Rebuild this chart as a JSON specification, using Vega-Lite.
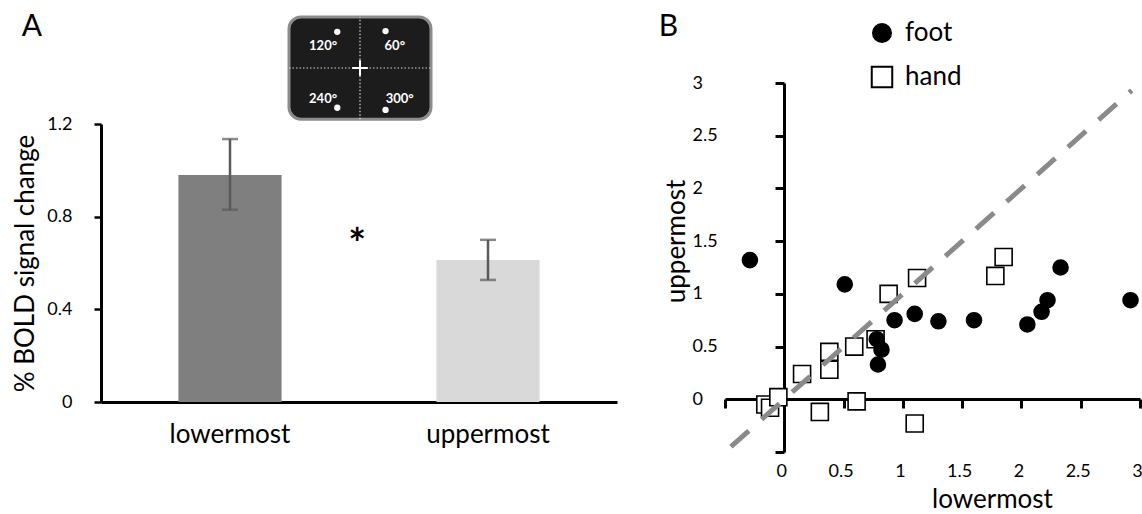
{
  "$schema": "https://vega.github.io/schema/vega-lite/v6.json",
  "background": "white",
  "padding": {"left": 12, "top": 11, "right": 0, "bottom": 0},
  "spacing": 41,
  "config": {
    "view": {"stroke": null},
    "font": "Lato",
    "axis": {"grid": false, "labelColor": "black", "titleColor": "black", "domainColor": "black", "tickColor": "black", "titleFontWeight": "normal", "labelFont": "Lato", "titleFont": "Lato"}
  },
  "resolve": {"legend": {"shape": "independent", "fill": "independent", "stroke": "independent"}},
  "datasets": {
    "bars": [
      {"condition": "lowermost", "mean": 0.98, "lo": 0.83, "hi": 1.135},
      {"condition": "uppermost", "mean": 0.613, "lo": 0.527, "hi": 0.70}
    ],
    "inset_box": [{"x": -1, "x2": 1, "y": -0.72, "y2": 0.72}],
    "inset_lines": [
      {"x": 0, "x2": 0, "y": -0.72, "y2": 0.72},
      {"x": -1, "x2": 1, "y": 0, "y2": 0}
    ],
    "inset_cross": [
      {"x": -0.11, "x2": 0.11, "y": 0, "y2": 0},
      {"x": 0, "x2": 0, "y": -0.11, "y2": 0.11}
    ],
    "inset_dots": [
      {"x": -0.32, "y": 0.51},
      {"x": 0.36, "y": 0.52},
      {"x": -0.32, "y": -0.56},
      {"x": 0.36, "y": -0.59}
    ],
    "inset_labels": [
      {"x": -0.52, "y": 0.31, "text": "120°"},
      {"x": 0.49, "y": 0.31, "text": "60°"},
      {"x": -0.52, "y": -0.44, "text": "240°"},
      {"x": 0.56, "y": -0.44, "text": "300°"}
    ],
    "panel_a_notes": [
      {"x": -4.62, "y": 0.577, "text": "A"}
    ],
    "star": [
      {"x": -0.04, "y": -2.5, "text": "*"}
    ],
    "scatter": [
      {"limb": "hand", "lowermost": -0.16, "uppermost": -0.05},
      {"limb": "hand", "lowermost": -0.12, "uppermost": -0.08},
      {"limb": "hand", "lowermost": -0.05, "uppermost": 0.02},
      {"limb": "hand", "lowermost": 0.15, "uppermost": 0.24},
      {"limb": "hand", "lowermost": 0.38, "uppermost": 0.28},
      {"limb": "hand", "lowermost": 0.38, "uppermost": 0.45},
      {"limb": "hand", "lowermost": 0.59, "uppermost": 0.50},
      {"limb": "hand", "lowermost": 0.77, "uppermost": 0.57},
      {"limb": "hand", "lowermost": 0.30, "uppermost": -0.12},
      {"limb": "hand", "lowermost": 0.61, "uppermost": -0.02},
      {"limb": "hand", "lowermost": 1.10, "uppermost": -0.23},
      {"limb": "hand", "lowermost": 0.88, "uppermost": 1.0},
      {"limb": "hand", "lowermost": 1.12, "uppermost": 1.15},
      {"limb": "hand", "lowermost": 1.78, "uppermost": 1.17},
      {"limb": "hand", "lowermost": 1.85, "uppermost": 1.35},
      {"limb": "foot", "lowermost": -0.29, "uppermost": 1.32},
      {"limb": "foot", "lowermost": 0.51, "uppermost": 1.09},
      {"limb": "foot", "lowermost": 0.93, "uppermost": 0.75},
      {"limb": "foot", "lowermost": 1.10, "uppermost": 0.81},
      {"limb": "foot", "lowermost": 1.30, "uppermost": 0.74},
      {"limb": "foot", "lowermost": 1.60, "uppermost": 0.75},
      {"limb": "foot", "lowermost": 2.05, "uppermost": 0.71},
      {"limb": "foot", "lowermost": 2.17, "uppermost": 0.83},
      {"limb": "foot", "lowermost": 2.22, "uppermost": 0.94},
      {"limb": "foot", "lowermost": 2.33, "uppermost": 1.25},
      {"limb": "foot", "lowermost": 2.92, "uppermost": 0.94},
      {"limb": "foot", "lowermost": 0.78, "uppermost": 0.57},
      {"limb": "foot", "lowermost": 0.82, "uppermost": 0.47},
      {"limb": "foot", "lowermost": 0.79, "uppermost": 0.33}
    ],
    "diag": [
      {"lowermost": -0.45, "uppermost": -0.45},
      {"lowermost": 2.93, "uppermost": 2.93}
    ],
    "panel_b_notes": [
      {"lowermost": -0.977, "uppermost": 3.533, "text": "B"}
    ]
  },
  "hconcat": [
    {
      "width": 516,
      "height": 319,
      "layer": [
        {
          "layer": [
            {
              "data": {"name": "bars"},
              "mark": {"type": "bar"},
              "encoding": {
                "x": {
                  "field": "condition", "type": "nominal",
                  "sort": ["lowermost", "uppermost"],
                  "scale": {"paddingInner": 0.6, "paddingOuter": 0.3},
                  "axis": {"title": null, "domainWidth": 3, "ticks": false, "labelFontSize": 26, "labelPadding": 32, "labelBaseline": "middle", "labelAngle": 0}
                },
                "y": {
                  "field": "mean", "type": "quantitative",
                  "scale": {"domain": [0, 1.2], "nice": false, "range": [319, 41]},
                  "axis": {"values": [0, 0.4, 0.8, 1.2], "format": "~g", "title": "% BOLD signal change", "titleFontSize": 26, "titleX": -76, "titleY": 180, "titleBaseline": "middle", "titleAlign": "center", "domainWidth": 3, "tickWidth": 2.5, "tickSize": 7, "labelFontSize": 18, "labelPadding": 22, "labelOverlap": false}
                },
                "color": {
                  "field": "condition", "type": "nominal",
                  "scale": {"domain": ["lowermost", "uppermost"], "range": ["#7f7f7f", "#d9d9d9"]},
                  "legend": null
                }
              }
            },
            {
              "data": {"name": "bars"},
              "mark": {"type": "rule", "color": "#5a5a5a", "strokeWidth": 2.5},
              "encoding": {
                "x": {"field": "condition", "type": "nominal", "sort": ["lowermost", "uppermost"]},
                "y": {"field": "lo", "type": "quantitative"},
                "y2": {"field": "hi"}
              }
            },
            {
              "data": {"name": "bars"},
              "mark": {"type": "tick", "color": "#5a5a5a", "thickness": 2.5, "size": 16},
              "encoding": {
                "x": {"field": "condition", "type": "nominal", "sort": ["lowermost", "uppermost"]},
                "y": {"field": "lo", "type": "quantitative"}
              }
            },
            {
              "data": {"name": "bars"},
              "mark": {"type": "tick", "color": "#5a5a5a", "thickness": 2.5, "size": 16},
              "encoding": {
                "x": {"field": "condition", "type": "nominal", "sort": ["lowermost", "uppermost"]},
                "y": {"field": "hi", "type": "quantitative"}
              }
            }
          ]
        },
        {
          "layer": [
            {
              "data": {"name": "inset_box"},
              "mark": {"type": "rect", "fill": "#1c1c1c", "stroke": "#8c8c8c", "strokeWidth": 3, "cornerRadius": 12},
              "encoding": {
                "x": {"field": "x", "type": "quantitative", "scale": {"domain": [-3.648, 3.62], "nice": false, "zero": false}, "axis": null},
                "x2": {"field": "x2"},
                "y": {"field": "y", "type": "quantitative", "scale": {"domain": [-4.704, -0.211], "nice": false, "zero": false}, "axis": null},
                "y2": {"field": "y2"}
              }
            },
            {
              "data": {"name": "inset_lines"},
              "mark": {"type": "rule", "color": "#d8d8d8", "strokeWidth": 1.2, "strokeDash": [1.5, 2]},
              "encoding": {
                "x": {"field": "x", "type": "quantitative", "scale": {"domain": [-3.648, 3.62], "nice": false, "zero": false}, "axis": null},
                "x2": {"field": "x2"},
                "y": {"field": "y", "type": "quantitative", "scale": {"domain": [-4.704, -0.211], "nice": false, "zero": false}, "axis": null},
                "y2": {"field": "y2"}
              }
            },
            {
              "data": {"name": "inset_cross"},
              "mark": {"type": "rule", "color": "white", "strokeWidth": 2},
              "encoding": {
                "x": {"field": "x", "type": "quantitative", "scale": {"domain": [-3.648, 3.62], "nice": false, "zero": false}, "axis": null},
                "x2": {"field": "x2"},
                "y": {"field": "y", "type": "quantitative", "scale": {"domain": [-4.704, -0.211], "nice": false, "zero": false}, "axis": null},
                "y2": {"field": "y2"}
              }
            },
            {
              "data": {"name": "inset_dots"},
              "mark": {"type": "circle", "color": "white", "opacity": 1, "size": 40},
              "encoding": {
                "x": {"field": "x", "type": "quantitative", "scale": {"domain": [-3.648, 3.62], "nice": false, "zero": false}, "axis": null},
                "y": {"field": "y", "type": "quantitative", "scale": {"domain": [-4.704, -0.211], "nice": false, "zero": false}, "axis": null}
              }
            },
            {
              "data": {"name": "inset_labels"},
              "mark": {"type": "text", "color": "white", "fontSize": 13, "fontWeight": "bold", "align": "center", "baseline": "middle"},
              "encoding": {
                "x": {"field": "x", "type": "quantitative", "scale": {"domain": [-3.648, 3.62], "nice": false, "zero": false}, "axis": null},
                "y": {"field": "y", "type": "quantitative", "scale": {"domain": [-4.704, -0.211], "nice": false, "zero": false}, "axis": null},
                "text": {"field": "text"}
              }
            },
            {
              "data": {"name": "panel_a_notes"},
              "mark": {"type": "text", "color": "black", "fontSize": 30, "align": "center", "baseline": "middle"},
              "encoding": {
                "x": {"field": "x", "type": "quantitative", "scale": {"domain": [-3.648, 3.62], "nice": false, "zero": false}, "axis": null},
                "y": {"field": "y", "type": "quantitative", "scale": {"domain": [-4.704, -0.211], "nice": false, "zero": false}, "axis": null},
                "text": {"field": "text"}
              }
            },
            {
              "data": {"name": "star"},
              "mark": {"type": "text", "color": "black", "fontSize": 42, "fontWeight": "bold", "align": "center", "baseline": "middle"},
              "encoding": {
                "x": {"field": "x", "type": "quantitative", "scale": {"domain": [-3.648, 3.62], "nice": false, "zero": false}, "axis": null},
                "y": {"field": "y", "type": "quantitative", "scale": {"domain": [-4.704, -0.211], "nice": false, "zero": false}, "axis": null},
                "text": {"field": "text"}
              }
            }
          ]
        }
      ],
      "resolve": {"scale": {"x": "independent", "y": "independent"}}
    },
    {
      "width": 415,
      "height": 369,
      "layer": [
        {
          "data": {"name": "scatter"},
          "mark": {"type": "point", "filled": true, "opacity": 1, "strokeWidth": 1.6, "size": 290},
          "encoding": {
            "x": {
              "field": "lowermost", "type": "quantitative",
              "scale": {"domain": [-0.5, 3], "nice": false, "zero": false},
              "axis": {"values": [-0.5, 0, 0.5, 1, 1.5, 2, 2.5, 3], "format": "~g", "labelExpr": "datum.value < 0 ? '' : datum.label", "offset": -53, "domainWidth": 3, "tickWidth": 3, "tickSize": 9, "labelFontSize": 18, "labelPadding": 63, "labelOffset": -3, "labelBaseline": "middle", "labelFlush": false, "labelOverlap": false, "title": "lowermost", "titleFontSize": 26, "titleX": 267, "titleY": 100, "titleBaseline": "middle", "titleAlign": "center"}
            },
            "y": {
              "field": "uppermost", "type": "quantitative",
              "scale": {"domain": [-0.5, 3], "nice": false, "zero": false},
              "axis": {"values": [-0.5, 0, 0.5, 1, 1.5, 2, 2.5, 3], "format": "~g", "labelExpr": "datum.value < 0 ? '' : datum.label", "offset": -59, "domainWidth": 3, "tickWidth": 3, "tickSize": 9, "labelFontSize": 18, "labelPadding": 83, "labelAlign": "left", "labelBaseline": "middle", "labelFlush": false, "labelOverlap": false, "title": "uppermost", "titleFontSize": 26, "titleX": -108, "titleY": 158, "titleBaseline": "middle", "titleAlign": "center"}
            },
            "shape": {
              "field": "limb", "type": "nominal",
              "scale": {"domain": ["foot", "hand"], "range": ["M -0.88 0 A 0.88 0.88 0 1 0 0.88 0 A 0.88 0.88 0 1 0 -0.88 0 Z", "square"]},
              "legend": {"title": null, "orient": "none", "legendX": 144, "legendY": -63, "labelFontSize": 26, "labelColor": "black", "symbolSize": 420, "symbolStrokeWidth": 2, "rowPadding": 15, "labelOffset": 10, "padding": 0}
            },
            "fill": {
              "field": "limb", "type": "nominal",
              "scale": {"domain": ["foot", "hand"], "range": ["black", "white"]},
              "legend": {"title": null, "orient": "none", "legendX": 144, "legendY": -63, "labelFontSize": 26, "labelColor": "black", "symbolSize": 420, "symbolStrokeWidth": 2, "rowPadding": 15, "labelOffset": 10, "padding": 0}
            },
            "stroke": {
              "field": "limb", "type": "nominal",
              "scale": {"domain": ["foot", "hand"], "range": ["black", "black"]},
              "legend": {"title": null, "orient": "none", "legendX": 144, "legendY": -63, "labelFontSize": 26, "labelColor": "black", "symbolSize": 420, "symbolStrokeWidth": 2, "rowPadding": 15, "labelOffset": 10, "padding": 0}
            }
          }
        },
        {
          "data": {"name": "diag"},
          "mark": {"type": "line", "color": "#8a8a8a", "strokeWidth": 5, "strokeDash": [24, 17], "strokeCap": "butt"},
          "encoding": {
            "x": {"field": "lowermost", "type": "quantitative"},
            "y": {"field": "uppermost", "type": "quantitative"}
          }
        },
        {
          "data": {"name": "panel_b_notes"},
          "mark": {"type": "text", "color": "black", "fontSize": 30, "align": "center", "baseline": "middle"},
          "encoding": {
            "x": {"field": "lowermost", "type": "quantitative"},
            "y": {"field": "uppermost", "type": "quantitative"},
            "text": {"field": "text"}
          }
        }
      ]
    }
  ]
}
